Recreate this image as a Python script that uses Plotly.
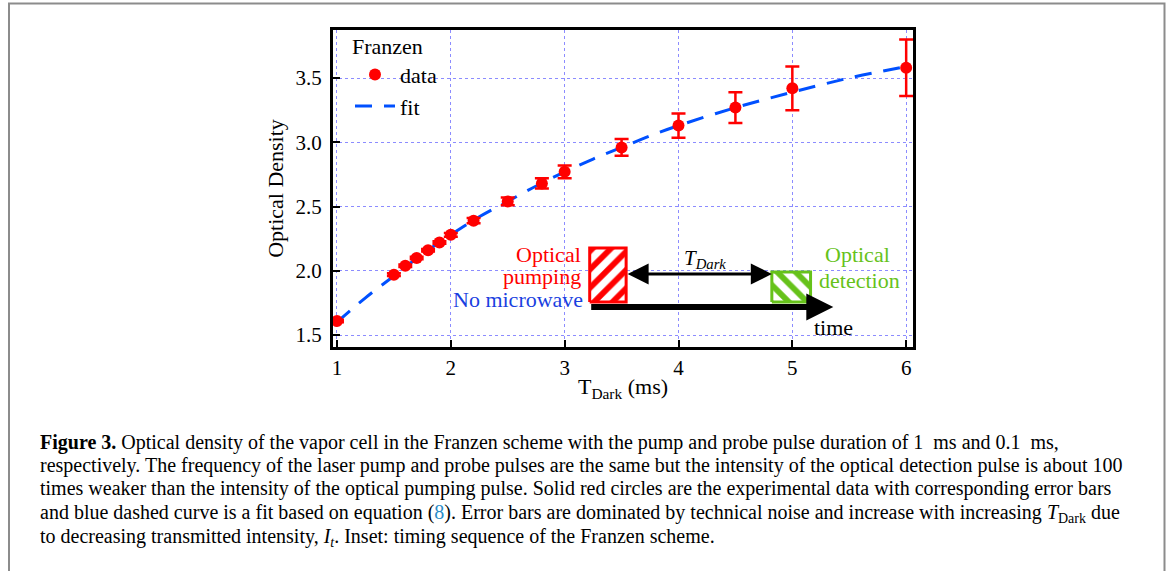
import plotly.graph_objects as go

# ---------------- data ----------------
t_dark = [1.0, 1.5, 1.6, 1.7, 1.8, 1.9, 2.0, 2.2, 2.5, 2.8, 3.0, 3.5, 4.0, 4.5, 5.0, 6.0]
od_data = [1.61, 1.97, 2.04, 2.10, 2.16, 2.22, 2.28, 2.39, 2.54, 2.68, 2.77, 2.96, 3.13, 3.27, 3.42, 3.58]
od_err = [0.01, 0.01, 0.01, 0.01, 0.01, 0.01, 0.015, 0.02, 0.03, 0.04, 0.05, 0.065, 0.095, 0.12, 0.17, 0.22]

fit_t = [1.0, 1.25, 1.5, 1.75, 2.0, 2.25, 2.5, 2.75, 3.0, 3.25, 3.5, 3.75, 4.0, 4.5, 5.0, 5.5, 6.0]
fit_od = [1.60, 1.79, 1.96, 2.13, 2.28, 2.42, 2.54, 2.66, 2.77, 2.87, 2.96, 3.05, 3.13, 3.27, 3.39, 3.50, 3.59]

x_ticks = [1, 2, 3, 4, 5, 6]
y_ticks = [1.5, 2.0, 2.5, 3.0, 3.5]

# inset (timing diagram) geometry in data units
pump_box = (3.22, 3.54, 1.757, 2.177)
det_box = (4.82, 5.16, 1.757, 1.99)
time_arrow = (3.22, 5.36, 1.718)
dark_arrow = (3.54, 4.82, 1.975)

caption_lines = [
    "<b>Figure 3.</b> Optical density of the vapor cell in the Franzen scheme with the pump and probe pulse duration of 1  ms and 0.1  ms,",
    "respectively. The frequency of the laser pump and probe pulses are the same but the intensity of the optical detection pulse is about 100",
    "times weaker than the intensity of the optical pumping pulse. Solid red circles are the experimental data with corresponding error bars",
    "and blue dashed curve is a fit based on equation (<span style='color:#2a8cc8'>8</span>). Error bars are dominated by technical noise and increase with increasing <i>T</i><sub>Dark</sub> due",
    "to decreasing transmitted intensity, <i>I<sub>t</sub></i>. Inset: timing sequence of the Franzen scheme.",
]

SERIF = "Liberation Serif"
RED = "#ff0000"
BLUE = "#0050ff"
GREEN = "#66c21a"

# plot-area pixel frame (for placing caption/border)
L, R, T, B = 333, 913, 30, 347
W, H = 1168, 571


def px_x(p):
    return (p - L) / (R - L)


def px_y(p):
    return (B - p) / (B - T)


fig = go.Figure()

fig.add_trace(go.Scatter(
    x=fit_t, y=fit_od, mode="lines", name="fit",
    line=dict(color=BLUE, width=3, dash="17px,12px", shape="spline"),
))
fig.add_trace(go.Scatter(
    x=t_dark, y=od_data, mode="markers", name="data",
    marker=dict(color=RED, size=12, symbol="circle"),
    error_y=dict(type="data", array=od_err, color=RED, thickness=2.5, width=7),
))


def box_trace(b, color, pat):
    x0, x1, y0, y1 = b
    return go.Scatter(
        x=[x0, x1, x1, x0, x0], y=[y0, y0, y1, y1, y0], mode="lines",
        fill="toself", showlegend=False, hoverinfo="skip",
        line=dict(color=color, width=3),
        fillcolor="white",
        fillpattern=dict(shape=pat, fgcolor=color, bgcolor="white", fgopacity=1,
                         size=13, solidity=0.45),
    )


fig.add_trace(box_trace(pump_box, RED, "/"))
fig.add_trace(box_trace(det_box, GREEN, "\\"))

annotations = []
# time arrow
annotations.append(dict(x=time_arrow[1], y=time_arrow[2], ax=time_arrow[0], ay=time_arrow[2],
                        xref="x", yref="y", axref="x", ayref="y", text="", showarrow=True,
                        arrowhead=2, arrowsize=0.9, arrowwidth=6, arrowcolor="black"))
# T_dark double arrow
annotations.append(dict(x=dark_arrow[1], y=dark_arrow[2], ax=dark_arrow[0], ay=dark_arrow[2],
                        xref="x", yref="y", axref="x", ayref="y", text="", showarrow=True,
                        arrowhead=2, startarrowhead=2, arrowside="end+start",
                        arrowsize=1.4, startarrowsize=1.4, arrowwidth=3, arrowcolor="black"))


def label(text, xp, yp, color, anchor="center", size=22):
    return dict(x=px_x(xp), y=px_y(yp), xref="paper", yref="paper", text=text,
                showarrow=False, xanchor=anchor, yanchor="middle",
                font=dict(family=SERIF, size=size, color=color))


annotations += [
    label("Optical", 583, 254, RED, "right"),
    label("pumping", 583, 276, RED, "right"),
    label("No microwave", 585, 299, "#1a3fe0", "right"),
    label("Optical", 857, 254, GREEN),
    label("detection", 859, 280, GREEN),
    label("time", 833, 327, "black"),
    label("<i>T<sub>Dark</sub></i>", 705, 259, "black", size=21),
]

cap_y = [443, 466, 489, 513, 537]
for line, yy in zip(caption_lines, cap_y):
    annotations.append(dict(x=px_x(38), y=px_y(yy), xref="paper", yref="paper", text=line,
                            showarrow=False, xanchor="left", yanchor="middle", align="left",
                            font=dict(family=SERIF, size=20, color="black")))

fig.update_layout(
    width=W, height=H,
    margin=dict(l=L, r=W - R, t=T, b=H - B, autoexpand=False),
    paper_bgcolor="white", plot_bgcolor="white",
    font=dict(family=SERIF, size=21, color="black"),
    showlegend=True,
    legend=dict(
        title=dict(text="Franzen", font=dict(family=SERIF, size=22)),
        x=px_x(350), y=px_y(25), xanchor="left", yanchor="top",
        bgcolor="rgba(0,0,0,0)", borderwidth=0,
        font=dict(family=SERIF, size=22), traceorder="reversed",
        itemwidth=40, tracegroupgap=0,
    ),
    annotations=annotations,
    shapes=[dict(type="rect", xref="paper", yref="paper",
                 x0=px_x(9), x1=px_x(1164.5), y0=px_y(3.5), y1=px_y(580),
                 line=dict(color="#8c8c8c", width=2), layer="below")],
)

fig.update_xaxes(
    range=[0.965, 6.06], tickvals=x_ticks, ticktext=[str(v) for v in x_ticks],
    showline=True, linecolor="black", linewidth=3, mirror=True,
    ticks="inside", ticklen=7, tickwidth=2, tickcolor="black",
    showgrid=True, gridcolor="#8c8cff", gridwidth=1, griddash="dot",
    zeroline=False, ticklabelstandoff=0,
    tickfont=dict(family=SERIF, size=21),
    title=dict(text="T<sub>Dark</sub> (ms)", font=dict(family=SERIF, size=22), standoff=0),
)
fig.update_yaxes(
    range=[1.407, 3.874], tickvals=y_ticks, ticktext=[f"{v:.1f}" for v in y_ticks],
    showline=True, linecolor="black", linewidth=3, mirror=True,
    ticks="inside", ticklen=7, tickwidth=2, tickcolor="black",
    showgrid=True, gridcolor="#8c8cff", gridwidth=1, griddash="dot",
    zeroline=False, ticklabelstandoff=4,
    tickfont=dict(family=SERIF, size=21),
    title=dict(text="Optical Density", font=dict(family=SERIF, size=22), standoff=6),
)

fig.write_html("out.html")
